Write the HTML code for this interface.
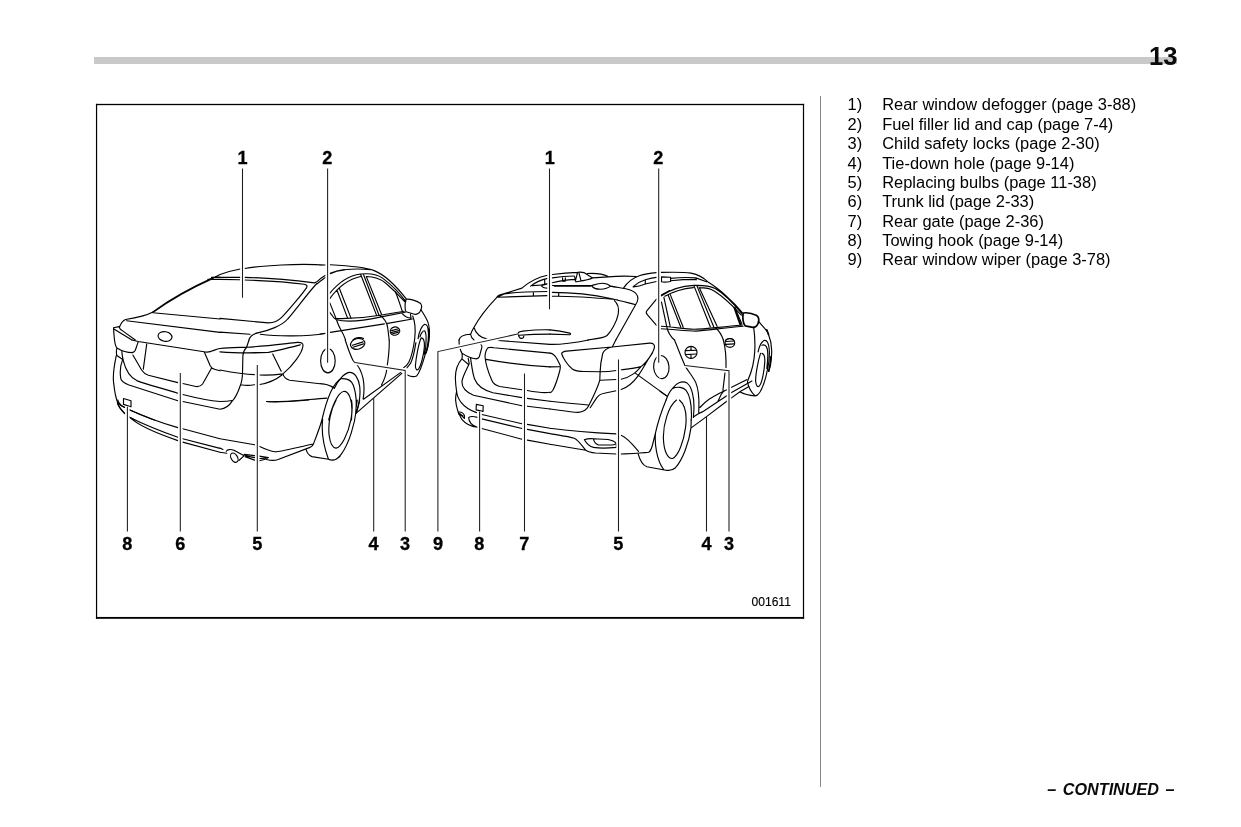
<!DOCTYPE html>
<html><head><meta charset="utf-8">
<style>
html,body{margin:0;padding:0;background:#fff;}
html{filter:grayscale(1);}
body{width:1241px;height:827px;position:relative;overflow:hidden;font-family:"Liberation Sans",sans-serif;color:#000;}
.bar{position:absolute;left:94px;top:57px;width:1083px;height:7px;background:#c9c9c9;}
.pn{position:absolute;left:1100px;width:77.5px;top:37.8px;text-align:right;font-weight:bold;font-size:25.6px;line-height:36px;color:#0a0a0a;}
.div{position:absolute;left:820px;top:96px;width:1px;height:691px;background:#858585;}
.list{position:absolute;left:847.6px;top:95.4px;font-size:16.45px;line-height:19.37px;white-space:nowrap;}
.list div{position:relative;padding-left:34.6px;}
.list div b{position:absolute;left:0;font-weight:normal;}
.cont{position:absolute;left:1000px;width:174.5px;text-align:right;top:778.6px;font-size:16.2px;word-spacing:2px;line-height:20px;font-weight:bold;font-style:italic;white-space:nowrap;color:#0a0a0a;}
svg{position:absolute;left:0;top:0;}
.n{font-family:"Liberation Sans",sans-serif;font-weight:bold;font-size:18.1px;text-anchor:middle;fill:#000;stroke:#000;stroke-width:0.3px;}
</style></head><body>
<div class="bar"></div>
<div class="pn">13</div>
<div class="div"></div>
<div class="list">
<div><b>1)</b>Rear window defogger (page 3-88)</div>
<div><b>2)</b>Fuel filler lid and cap (page 7-4)</div>
<div><b>3)</b>Child safety locks (page 2-30)</div>
<div><b>4)</b>Tie-down hole (page 9-14)</div>
<div><b>5)</b>Replacing bulbs (page 11-38)</div>
<div><b>6)</b>Trunk lid (page 2-33)</div>
<div><b>7)</b>Rear gate (page 2-36)</div>
<div><b>8)</b>Towing hook (page 9-14)</div>
<div><b>9)</b>Rear window wiper (page 3-78)</div>
</div>
<div class="cont">&#8211; CONTINUED &#8211;</div>
<svg width="1241" height="827" viewBox="0 0 1241 827">
<g id="frame" fill="#000"><rect x="95.95" y="103.85" width="708.15" height="1.3"/><rect x="95.95" y="616.95" width="708.15" height="1.85"/><rect x="95.95" y="103.85" width="1.2" height="514.85"/><rect x="802.9" y="103.85" width="1.2" height="514.85"/></g>
<text x="751.5" y="606" font-family="Liberation Sans, sans-serif" font-size="12.8" textLength="39.4" lengthAdjust="spacingAndGlyphs" fill="#000" stroke="#000" stroke-width="0.15">001611</text>
<g id="labels">
<text class="n" x="242.5" y="164.2">1</text>
<text class="n" x="327.2" y="164.2">2</text>
<text class="n" x="549.8" y="164.2">1</text>
<text class="n" x="658.3" y="164.2">2</text>
<text class="n" x="127.3" y="550.1">8</text>
<text class="n" x="180.4" y="550.1">6</text>
<text class="n" x="257.3" y="550.1">5</text>
<text class="n" x="373.6" y="550.1">4</text>
<text class="n" x="405" y="550.1">3</text>
<text class="n" x="438" y="550.1">9</text>
<text class="n" x="479.3" y="550.1">8</text>
<text class="n" x="524.3" y="550.1">7</text>
<text class="n" x="618.3" y="550.1">5</text>
<text class="n" x="706.5" y="550.1">4</text>
<text class="n" x="729.1" y="550.1">3</text>
</g>
<g id="car1" fill="none" stroke="#000" stroke-width="1.15" stroke-linecap="round" stroke-linejoin="round">
<path d="M211.3 278.9L220 274.5M153 312.7L220 319M153 312.1C145.5 316.1 134.8 318.1 125.6 319.5C121.8 321 120.5 324.4 119.4 327.3C119.8 329.2 120.8 329.7 122.3 330.6L135.3 340M126.6 320.8L220 332.4M113.5 327.7L119.1 326.6M113.5 327.7C113.8 332.6 114.2 337.4 114.5 340M211.5 277.4L220 277.1M207.9 279.4L220 279.3M114.3 329.2L131.9 340M220 274.5C226.8 272.1 233.5 270.2 240.3 269M244.7 268.5C263.5 265.3 297.4 263.4 325.5 265M220 277.2L240.3 277.4M244.7 277.4C268.4 277.9 297.4 280.8 314.4 282.9L316.8 281.8C319.7 278.9 322.6 276.9 325.5 275.2M317.1 283.9C320.2 281.1 322.8 279.4 325.5 277.4M220 279.4L239.8 279.8M244.7 280C268.4 280.8 292.6 282.7 304.2 284.2C306.6 284.7 307.6 285.6 306.6 287.6C303.2 292.9 287.7 311.3 281.9 317.1C278.1 321 274.2 322.9 268.4 322.9L220 318.4M316.8 283.5C307.1 293.9 295.5 310.3 287.7 319C281.9 325.8 268.4 330.6 258.7 332.6C253.9 333.5 250 335.5 249 340M220 332.1L250 334.3M260.2 334.3C278.1 336.5 307.1 336.5 325.5 333.5M320 265.3L325.3 265M330.2 264.8C349 265.8 366.5 267.7 374.2 270.6C382.9 274 395.5 285.2 406.1 298.7M344.2 269.7C353.9 268.7 363.5 268.9 370.3 269.7M329.7 293.4C339.4 281.3 349 275.5 360.6 274C370.3 273.1 378.1 274.5 382.9 278.4C390.6 284.2 399.4 292.9 405.6 301.1M329.7 298.7C337.4 288.1 347.1 279.4 360.6 276.5M366.5 276.5C374.2 276.5 380 278.4 385.8 283.2C391.6 288.1 399.4 295.8 404.7 301.6M360.8 274.7L376.6 315.4M363.5 274.5L379 315.2M366.3 276.6L381.5 314.2M336.9 290L347.6 318.1M339.4 288.5L351 318.1"/>
<path d="M334.5 318.5C349 319 363.5 318.1 380 315.2L404.2 311.3M335.5 319.5C344.2 321.9 358.7 321.9 380 317.1L405.2 312.3M320 334L325.3 333.3M330.2 332.4L384.4 323.9M387.7 323.4L412.4 319M380 315.6C383.9 318.1 386.8 321.9 387.7 327.7L389.2 340M329.7 302.6L335.5 317.1C336.5 320 338.4 325.8 340.8 329.7C343.2 333.5 344.7 337.4 345.6 340M329.7 312.3L334.5 318.5M406.1 299.2C410 298.7 416.8 300.6 420.6 303.5C422.1 305.5 421.6 308.4 420.6 310.3C419.7 313.2 416.8 314.7 414.4 314.2L406.1 311.8C404.7 310.3 404.7 303.5 406.1 299.2M402.3 313.7C405.2 317.1 409 318.1 411 318.1L410.5 314.2M395.5 291.9C398.4 298.7 400.3 305.5 402.3 311.3M391.6 330.6L398.4 328.7M391.1 332.6L398.9 330.5M392.1 334L398.4 332.1M352.9 340C355.8 337.4 360.6 336.9 363.5 338.4M131.9 340L138.2 341.5L204 351.8C207.4 352.4 211.3 351.6 213.2 350.6C215.2 349.9 217.6 348.9 220 348.5M114.5 340C115 343.9 116 346.8 116.9 347.9C121.3 350.6 128.1 352.6 132.4 352.6C133.9 352.1 134.8 351.1 135.3 350.2L138.2 341.9M146.7 344.1L143.3 369.2M132.9 355L141.6 370C143.5 372.9 145.5 374.4 148.4 375.3L177.9 382.6M182.7 383.5L195.8 386.5C199.7 386.9 201.1 386 202.6 384L211.3 368.5M204.3 352.1L210.3 366.1C211.3 368.1 213.2 369 215.2 369.5L220 370.8M116.9 348.2C116 351.6 116.3 353.5 116.9 355.5L122.7 359.4M121.8 351.6C122.3 355.5 122.7 358.4 123.2 360.3C126.1 371.9 131 377.7 136.8 380.6C144.5 384 162.9 388.4 177.9 393.2M182.7 394.5C196.8 398.1 206.5 400.5 220 401.5M116.3 355.5C114.5 364.2 112.6 372.9 113.5 381.6C114.5 391.3 116.5 400 117.9 402.9"/>
<path d="M117.4 402.9C117.9 405.8 120.8 409.7 124.7 413.7M117.9 402.9C119.4 404.8 121.8 406.3 124.7 407.5M122.7 359.4C120.8 364.2 119.8 372.9 120.8 378.7C121.3 381.6 125.2 383.5 129 385L177.9 400.8M182.7 401.5L220 409.2M123.5 398.5L131 400.8L131 406.8L123.5 404.4ZM129 409.7L154.2 420M129 416.9L134.8 420M249 340L246.6 347.3C244.2 349.7 243.2 351.6 242.9 355.5L242.5 372.9C242.3 378.7 241.5 382.6 240.3 385.5C237.4 394.2 234.5 399 231.6 401.9C228.7 406.8 223.9 408.7 220 409.2M220 348.5C227.7 347.3 237.4 347.5 246.1 347.3C263.5 346.3 282.9 343.9 297.4 342.4C301.3 342.1 303.2 343.4 303 345.8C302.3 352.6 293.5 365.2 282.9 373.9M272.7 354L281.2 371.2M220 370C229.7 371.9 244.2 374.4 254.4 374.6M259.7 375C268.4 375.3 276.1 374.8 282.9 373.9M240.8 384.7C245.2 385.5 251 385.3 254.4 384.7M259.7 384.5C268.4 383.1 276.1 379.7 281.9 375M282.9 373.9C283.9 377.7 285.8 379.2 289.7 380.2L326.5 384.5C330.3 385.5 332.3 386.9 334.2 388.4M266.5 401.5C278.1 402.9 307.1 399.5 326.9 398.1M220 401.5C224.8 401.5 229.7 401 232.1 400.5M345.2 340C347.1 345.8 350 354.5 352.9 360.3C353.9 361.8 354.4 362.3 355 362.7C358.7 366.1 361.6 371.9 363.1 378.7C364.5 386.5 364 394.2 363.1 399M363.5 399.2L400.8 372.4M356 413.4L401.8 373.4M389.2 340C389.7 349.7 388.2 359.4 386.8 369C386.3 373.9 384.8 378.7 381.5 385M352.4 345.3L363.1 341.9M352.9 347.3L363.5 343.9M320 383.5C325.8 384 330.6 385.5 334.5 387.9M334.5 387.9C337.4 381.6 343.2 373.9 349 372.4C354.8 371.9 358.7 378.7 359.7 386.5C360.6 394.2 358.7 405.8 355.8 413.5"/>
<path d="M340.8 378.7C345.2 378.2 351 378.7 353.4 385.5C355.8 392.3 356.8 401.9 355.8 411.6M321.9 420C325.8 402.9 332.6 383.5 340.8 378.7M328.7 420C331.6 407.7 337.4 392.3 344.2 391.3C349 391.3 351.9 400 351.9 409.7L351.5 420M117.7 400C118.4 402.4 121.3 405.8 124.7 407.5M117.4 402.9C118.9 406.8 121.8 410.6 124.7 413.5M129.5 409.7C143.5 416.5 162.9 423.2 177.9 427.6M182.7 428.7L220 438.7M129.5 417.2C143.5 424.2 162.9 431.9 177.9 437.3M182.7 438.7L220 448.4M129.5 417.2C138.7 426.1 158.1 433.9 177.9 440.6M182.7 442.1L220 452.3M266.5 401.5C278.1 402.9 297.4 401 309 400M220 438.7L254.6 444.8M259.2 446.3C264.5 448.9 270.3 451.3 275.2 451.8C280 451.8 297.4 447.4 313.4 444M321.9 420C319.7 428.1 315.8 437.7 313.4 444C312.9 445.5 311.9 446.5 310 447.4L278.1 459.5C275.2 460.5 270.3 460.5 266.5 459.5M220 447.9L222.9 449.4M220 452.3L226.8 453.2M226.3 451.3C226.8 449.4 230.6 448.9 234 450.3L243.7 455.6M238.9 460.5L243.7 456.1M244.2 454.4L254.5 455.6M244.8 455.6L254.5 457.6M245.2 456.6L254.5 460.1M259.2 456.1L268.4 457.6M259.2 458.5L267.4 458.1M259.2 460.8L265.5 459.2M322.6 419.4C321.6 429 322.6 443.5 328.4 459M306.1 449.4C307.1 453.2 309 455.6 311.9 456.6L328.4 459.2C332.3 461 336.1 460 340 456.6M356.3 409.7C354.8 424.2 349 443.5 341.3 454.2C338.4 458.1 335.5 460.5 332.6 460.2M336.1 400C330.6 409.7 327.7 424.2 329.2 435.8C330.2 443.5 332.6 447.9 336 448.1C341.3 447.4 348.1 433.9 351 419.4C352.4 411.6 352.4 404.8 351.5 400M359.7 400C358.7 404.8 357.7 409.7 356 413.5M357.3 400L356 408.7"/>
<path d="M412.7 316C415.2 322.3 415.6 331 414.7 338.7C413.7 346.5 411.8 356.1 408.9 361.9C407.4 364.8 405.5 366.8 403.5 367.7M415.9 342.6C414.7 350.3 412.7 359 410.5 363.4L406.9 368M421 309.7C423.9 314.5 427.3 319.4 428.2 323.2C429.7 328.1 429.7 333.9 429.2 338.7C428.7 343.5 427.3 350.3 425.3 354.2M418.1 338.7C419 331.9 421.9 325.2 424.8 324.2C427.3 324.2 428.2 328.1 428.5 331.9M420 336.8C421 332.9 423.4 330 424.8 331C426.3 332.4 426.3 338.7 425.8 345.5C425.3 350.3 424.8 352.7 424.4 354.2M421 338.2C419 342.6 416.1 356.1 415.4 365.8C415.4 369.7 417.1 370.6 418.5 369.2C421 365.8 423.9 354.2 424.4 346.5C424.6 341.6 423.4 338.2 421.5 337.9M407.4 375C410.3 376.5 414.2 376.9 416.6 376C420 372.6 422.9 362.9 425.3 354.2"/>
<path d="M153 312.1C171.6 298.7 192.9 287.1 211.3 278.9" stroke-width="1.7"/>
<ellipse cx="165.0" cy="336.5" rx="7.0" ry="4.8" transform="rotate(10 165.0 336.5)"/>
<path d="M330.2 273.5C334.5 271.4 339.4 270.2 344.2 269.7" stroke-width="1.5"/>
<ellipse cx="395.0" cy="331.1" rx="4.8" ry="4.1" transform="rotate(-15 395.0 331.1)"/>
<path d="M220 351.8C229.7 352.6 249 353.1 268.4 352.4C278.1 350.6 289.7 347.3 300.3 344.8" stroke-width="1.3"/>
<ellipse cx="327.9" cy="360.8" rx="7.3" ry="12.1" transform="rotate(0 327.9 360.8)"/>
<ellipse cx="357.7" cy="343.9" rx="7.3" ry="5.3" transform="rotate(-15 357.7 343.9)"/>
<ellipse cx="234.3" cy="457.7" rx="3.2" ry="5.0" transform="rotate(-30 234.3 457.7)"/>
<path d="M428.5 329C429.1 336.8 428.2 345.5 426 352.7" stroke-width="1.6"/>
</g>
<g id="car2" fill="none" stroke="#000" stroke-width="1.15" stroke-linecap="round" stroke-linejoin="round">
<path d="M496.8 297.3C502.6 293.9 512.3 291 521.9 288.1C528.7 282.3 536.5 277.4 547.6 275.3M530.6 286.1C535.5 282.3 541.3 279.8 547.6 278.4M532.6 285.6L542.3 285M544.7 279.8L544.7 284.2M541.3 285.4C542.3 287.6 545.2 288.1 547.6 288.1M496.8 297.3C497.7 295.8 499.7 294.8 503.5 293.9L521.9 288.1M503.5 293.9C517.1 291.9 536.5 291.5 547.6 291.5M496.8 297.3C507.4 296.8 526.8 296.3 547.6 295.6M533.4 292.4L533.4 295.6M496.8 297.3C488.1 306.5 478.4 319 474 327.3C472.6 329.7 471.1 332.6 470.6 334.5C471.1 337.4 473.1 339.4 474 340M474 327.3C475.5 333.5 481.3 338.4 487.1 338.9M459 340C460 336.5 464.8 334.5 470.2 334.3M517.6 334C518.1 332.1 520 331.4 522.9 331.1C531.6 330.2 541.3 329.5 550 329.9M519 335.3C526.8 334.7 536.5 334.2 550 334.1M517.6 334L519.5 337.4C520.5 338.9 522.9 338.6 523.7 336.9L523.7 336M552.4 274.5C559.7 273.5 569.4 272.6 577.6 272.4M552.4 277.9C559.7 276.6 567.4 276 574.2 276M552.4 282.7C559.7 280.8 569.4 279.8 575.2 279.4M562.6 277.9L562.6 281.3L565.3 281.1L565.3 277.7M574.7 276.9L575.4 280.8M577.6 272.4C579 272.1 581.9 272.1 583.9 272.6L592.6 277.9C588.7 279.8 581.9 280.8 576.1 281.8L575.4 280.8L577.6 272.4M579 273.1L581 280.8M587.3 273.5C593.5 273.1 603.2 274 608.1 276.5M592.6 277.9L608.1 276.9C617.7 276 627.4 276 636.1 276.5M623.5 288.1C627.4 282.3 634.2 277.4 640 275.5C644.8 274 651.6 273.1 656.5 272.6M633.2 286.6C637.1 283.2 641.9 280.8 645.3 279.8C648.7 278.9 652.6 277.9 656.5 277.4M645.3 279.8L645.3 283.7M633.2 286.9C637.1 286.6 641.9 285.4 645.3 284L656.5 281.5"/>
<path d="M552.4 285.5L591.6 285.6M554.4 286.3L590.6 286.2M591.6 285.6C594.5 284.7 598.4 283.2 602.3 283.2C606.1 283.2 609 284.7 610.5 286.1C608.1 288.1 604.2 289 600.3 289.2C596.5 289.2 593.1 288.1 591.6 285.6M610.5 286.1C617.7 287.6 625.5 288.1 630.3 290C635.2 291.9 638.1 294.8 637.9 298.7C637.6 301.6 636.6 303.5 635.6 304.7M552.4 292.4C569.4 292.4 593.5 294.8 611.9 298.7C619.7 300.5 627.4 302.6 635.6 304.7M552.4 296.3C569.4 296 593.5 297.7 617.7 299.7M558.7 292.9L558.7 295.8M614.4 300.6C617.7 303.5 619.2 308.4 618.2 314.2C616.8 321.9 611 331.6 607.1 335.5C604.2 337.9 596.5 338.9 587.7 340M635.6 304.7L615.8 340M656.5 299.2L646.8 310.8C645.8 312.3 646.3 313.7 647.3 314.7L656.5 325.3M550 329.9C557.7 330.6 565.5 332.1 569.8 333.1C570.8 333.5 570.8 334.5 569.8 334.8L550 334.1M661 272.4C671.6 272.1 684.2 272.1 691 273.1C698.7 274.5 704.5 278.4 708.4 282.3M661 276.9L670.6 277.2M661.5 277.4L661.5 281.8C663.9 282.5 667.7 282.1 670.6 281.5L670.6 277.2M670.6 278.4C679.4 277.4 689 277.4 695.8 277.9L706.5 281.8M670.6 280.8C679.4 279.8 689 279.4 695.8 279.4M695.8 277.9L696.3 279.8M708.4 282.3C718.1 288.1 732.6 300.6 742.3 312.7M661.5 295.8C669.7 290 681.3 286.1 693.9 285.4C703.5 285 710.3 286.1 715.2 288.5C722.9 292.9 733.5 303.5 742.3 314.2M664.8 296.3C672.6 291.9 683.2 288.5 693.4 287.6M699.2 287.6C705.5 287.6 710.3 288.5 714.2 291C721.9 295.8 731.6 304.5 741.3 315.2M693.9 285.6L710.3 326.8M696.8 285.6L713.7 326.8M699.2 287.6L717.1 326.3M668.2 295.3L680.8 327.3M670.2 294.4L683.2 327.3"/>
<path d="M661.5 302.1L666.8 326.8M663.9 297.3L670.2 326.3M661 326.3C674.5 327.3 684.2 328.7 693.9 329.2C703.5 329.2 713.2 327.7 742.3 325M661 328.7C674.5 329.2 684.2 331.1 695.8 331.1C705.5 330.6 718.1 328.7 743.2 326.3M715.2 327.7C719 330.6 721.9 335.5 723.4 340M666.8 326.8C667.7 331.6 670.6 336.5 674.5 340M735 307.4C737.4 314.2 740.3 320 741.8 323.9M725.8 340C727.7 338.4 731.6 338.2 733.5 340M660.8 295.3L669.7 290.5M459 340C459 345.8 460 349.7 461.9 353.1C466.8 356.5 472.6 358.4 476.5 358.9C477.9 358.6 478.9 357.9 479.4 356.5L481.8 347.7C482.1 345.8 481.3 344.8 480.8 344.4M461.9 353.1C462.4 355.5 462.4 356.9 461.9 358.9L468.2 364.2M468.2 358.4L469.2 363.7M470.6 358.4C471.6 365.2 472.6 373.9 474.5 378.7C477.4 386.5 484.2 390.3 492.9 392.7L521.9 397.6M527.3 398.4L550 401.3M461.9 358.9C457.1 364.2 455.2 371 455.4 378.7C455.6 384.5 456.1 388.4 456.6 391.3C455.9 394.2 455.6 397.1 455.6 400M469.2 363.7C466.8 369 462.9 375.8 461.9 381.6C461.9 387.4 465.8 392.3 473.5 395.2L521.9 405.8M527.3 406.2L550 409M488.1 347.7C486.1 349.7 485.2 352.6 485 356.5C485.6 364.2 489 373.9 491.9 380.6C493.4 384 495.8 385.5 499.7 386.5L521.9 389.8M527.3 390.5C536.5 392.3 544.2 393.2 550 392.3M488.1 347.7C490 347.3 491.9 347.3 493.9 347.7L550 353.1M485.9 359.4C507.4 363.2 531.6 365.9 550 366.9M498.2 340.5L550 344.4M456.6 391.3C457.1 398.1 461.9 407.7 476.5 412.6M476.3 404.4L483.2 405.8L483 411.4L476.1 409.9ZM550 344.4C559.7 344.6 574.2 342.9 588.7 340M615.8 340L612.4 346.8"/>
<path d="M561.6 353.5C562.1 352.1 563.5 351.4 566.5 351.1L611.9 347L649.7 343.1C653.1 342.9 654.7 344.8 654.5 347.3C654 349.7 652.6 352.6 650.6 355.5C646.8 361.3 642.9 369 638.1 375.8C633.2 382.6 627.4 387.4 620.6 389.8M561.6 353.5C562.6 357.4 567.4 365.2 572.3 369C575.2 371 579 371.5 583.9 371.5L600.3 371.7C606.1 371.7 611.9 371.2 616.3 370.5M621.1 369.8C627.4 369 635.2 368.1 641 366.6M641 366.6C645.8 363.2 649.7 357.4 652.6 352.6M641 366.6C637.1 371 632.3 376.8 621.1 379.2M616.3 379.5L600.3 380.2M611.9 347C607.1 348.2 603.7 350.2 602.7 353.5C601.3 359.4 600.3 367.1 600.1 371.9L599.8 380.2C598.4 385.5 592.6 398.1 588.7 405.8C586.8 409.7 582.9 412.1 578.1 412.4C569.4 411.8 559.7 410.2 550 409M550 401.3C562.6 402.6 575.2 403.9 588.2 405M550 353.1C553.9 353.5 555.8 356.5 557.3 359.4L560.2 365.2C560.6 367.1 560.2 369 559.7 371C557.7 378.7 554.8 386.5 552.9 390.3C551.9 391.8 551 392.7 550 392.7M550 366.9L559.7 366.8M590.2 407.7L596.5 398.1C598.4 395.2 601.3 393.7 604.2 393.2L616.3 390.8M635.6 373.4L667.1 396.1M674.5 340C677.4 346.8 681.3 357.4 684.2 363.7C686.1 369 691.9 374.8 695.8 382.6C698.2 388.4 699.2 398.1 698.9 407.7L698.7 412.1L699.2 413.3M685.4 350.6L696.6 350.2M685.9 354.5L696.3 354M691 346.6L691 350.2M691 354.5L691 358.4M723.4 340C725.3 347.7 726.3 357.4 726 367.6M725 372.4C724.4 378.7 723.4 385.5 722.9 390.3M725.8 341.5L734 341M725.6 344.4L734.3 343.9M699.9 407.5C702.6 404.4 706.5 401 709.4 399C712.7 396.9 716.1 395 719 393.4L726.8 389.8M731.1 387.4L747.1 379.5"/>
<path d="M694.1 416.6L699.2 413.3C700.6 412.8 702.1 412.1 703.5 411.3L718.1 401.5L726.8 395.8M731.1 392.7L751.9 381.1M691.5 427.6L706.5 416.6L726.8 401.2M731.1 398.1L740.3 391.5L749 386.5M723.9 390.8C722.7 392.3 721.9 393.2 721 394.7L718.1 401M666.1 400C668.2 394.2 670.6 390.3 672.6 388.4C676.5 382.6 682.3 380.2 687.1 383.1C691.9 386.5 694.4 398.1 693.9 409.7L693.4 417.4M672.6 388.4C677.4 386.5 683.2 386.9 686.1 390.3C690 395.2 691.5 405.8 691.5 415.5L691.2 420M660 391.3L666.8 396.1M455.6 400C456.1 405.8 458.1 413.5 461.9 419.4C465.8 424.2 470.6 426.6 477.4 427.3M458.1 412.1C461 411.6 463.4 413.1 464.4 415.5L464.4 418.4C462.9 416.5 461 415 459 414.5ZM459.5 413.5L462.9 416M477.4 417.4C474.5 416.5 470.6 416 468.7 417.4C468.7 421.3 471.6 425.2 477.4 427.3M481.8 414.5L521.9 423.7M527.3 424.4L550 428.3M481.8 418.9L521.9 428.5M527.3 429.4L550 433.6M481.8 428.5L521.9 439.2M527.3 440.1L550 444.3M550 428.3C569.4 431 593.5 432.9 616.3 433.9M550 433.6C559.7 435.3 569.4 436.8 574.2 438.2C578.1 439.7 581.9 445.5 585.8 450.3C588.7 452.3 591.6 452.7 595.5 453L616.3 454M550 444.3L585.8 450.3M584.4 439.7C586.8 438.7 590.6 438.5 593.5 438.7L608.1 439.5C611.9 440.2 614.8 441.6 616.3 443.5L616.3 447.4C608.1 448.2 598.4 448.2 593.5 447.4C589.7 446.5 586.3 443.1 584.4 439.7M593.5 439.2C594 441.6 595.5 444 598.4 445L611.9 445C614.8 444.7 615.8 444 616 443.4M621.1 435.3C625.5 436.8 630.3 441.6 638.5 451.3"/>
<path d="M621.1 454C627.4 453.7 641.9 453.2 648.7 452.3C650.6 451.3 651.6 448.4 652.6 444.5L655.5 432.9C657.4 424.2 661.3 411.6 666.1 400M638.1 453.7C639.5 459 641.9 464.8 646.8 466.8L663.2 469.7C666.1 470.6 668.1 470.6 670 470.2M655.5 432.9C654.5 443.5 656.5 460 663.7 469.7M691.2 420L691 427.6M691 427.6C689 443.5 682.3 460 675.5 467.7C672.6 470.2 669.7 470.6 667.7 470.5L660 469.2M679.4 400C685.2 404.8 687.1 414.5 685.6 427.1C683.7 441.6 678.4 456.1 672.6 458.5C667.7 459 663.9 451.3 663.4 438.7C662.9 424.2 668.7 405.8 676.5 400M759 321.9C762.9 326.8 766.8 329.7 768.2 333.5C770.6 339.4 772.1 347.1 771.6 353.9C771.4 360.6 770.6 366.5 768.7 371.3M753.7 327.3C754.7 334.5 755.2 344.2 754.7 351.9C754.2 360.6 751.8 371.3 748.4 379L747.4 381.9C748.4 386.8 750.3 391.6 755.2 396M758.1 351.9C759 346.1 761.9 340.8 764.8 340.3C767.3 340.3 768.7 344.2 769.2 349C769.7 354.8 769.2 361.6 767.7 368.4M761.9 345.2C763.9 344.2 766.3 345.2 767.3 349C768.2 353.9 767.7 361.6 766.8 368.4M760.5 353.4C758.1 360.6 755.6 374.2 755.6 381C756.1 385.8 757.6 387.3 759 386.3C761.9 383.9 764.4 370.3 764.8 361.6C765 357.7 763.9 353.9 761.9 353.4M740.2 392.1C743.5 394 749.4 395.5 755.2 396C759 395.5 762.9 387.7 765.8 377.1C766.8 373.2 767.3 370.3 767.7 368.4"/>
<path d="M542.3 285L547.6 283.7" stroke-width="1.6"/>
<path d="M734.5 307.9L740.3 324.4" stroke-width="2"/>
<path d="M743.2 313C747.1 312.3 752.9 313.7 756.8 315.6C758.7 317.1 759.2 320 758.2 322.9C757.3 325.8 755.8 327.3 752.9 327.3L745.2 325.8C743.2 323.9 742.3 318.1 743.2 313" stroke-width="1.7"/>
<ellipse cx="661.3" cy="367.1" rx="7.7" ry="11.6" transform="rotate(-5 661.3 367.1)"/>
<ellipse cx="691.0" cy="352.4" rx="6.0" ry="6.0" transform="rotate(0 691.0 352.4)"/>
<ellipse cx="729.9" cy="342.9" rx="4.8" ry="4.4" transform="rotate(0 729.9 342.9)"/>
<path d="M766.8 329.7L768.5 334.5" stroke-width="1.6"/>
<path d="M770.8 356.8C770.5 362.6 769.7 367.4 768.7 371.3" stroke-width="1.6"/>
</g>
<g id="leaders" fill="none">
<path d="M242.5,168.6 L242.5,297.7 M327.6,168.6 L327.6,362.7 M127.4,406.8 L127.4,531.5 M180.3,372.9 L180.3,531.5 M257.3,365 L257.3,531.5 M373.7,401.5 L373.7,531.5 M405.2,531.5 L405.2,370.5 L354.8,362.5 M437.9,531.5 L437.9,351.6 L517.6,334 M549.5,168.6 L549.5,309.3 M658.7,168.6 L658.7,362.7 M479.6,411.6 L479.6,531.5 M524.5,373.4 L524.5,531.5 M618.5,359.4 L618.5,531.5 M706.5,421 L706.5,531.5 M729,531.5 L729,370.8 L685,365.4" stroke="#fff" stroke-width="4.4" stroke-linecap="butt"/>
<path d="M242.5,168.6 L242.5,297.7 M327.6,168.6 L327.6,362.7 M127.4,406.8 L127.4,531.5 M180.3,372.9 L180.3,531.5 M257.3,365 L257.3,531.5 M373.7,398 L373.7,531.5 M405.2,531.5 L405.2,370.5 L354.8,362.5 M437.9,531.5 L437.9,351.6 L517.6,334 M549.5,168.6 L549.5,309.3 M658.7,168.6 L658.7,362.7 M479.6,411.6 L479.6,531.5 M524.5,373.4 L524.5,531.5 M618.5,359.4 L618.5,531.5 M706.5,416.9 L706.5,531.5 M729,531.5 L729,370.8 L685,365.4" stroke="#1c1c1c" stroke-width="1.05"/>
</g>
</svg>
</body></html>
